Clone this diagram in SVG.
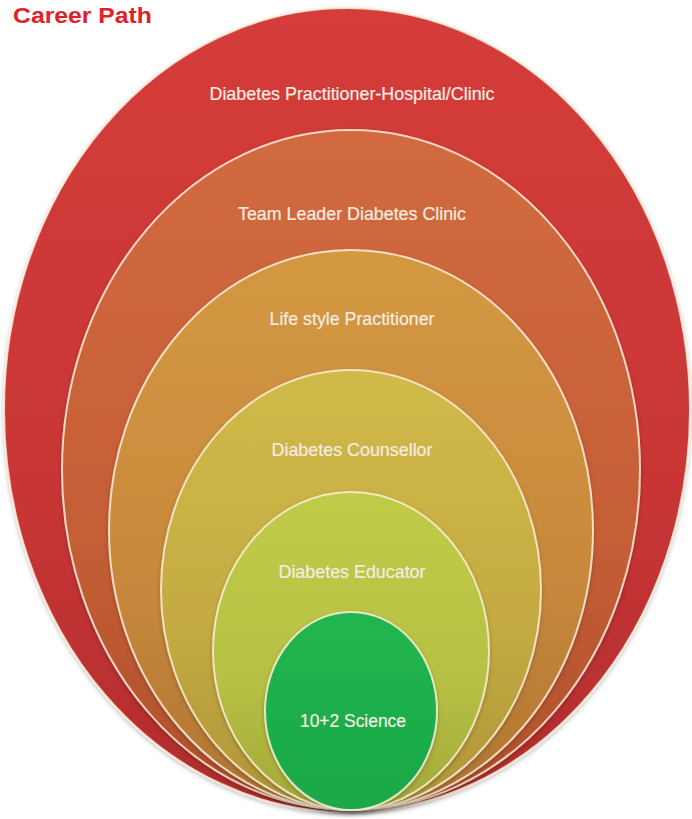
<svg xmlns="http://www.w3.org/2000/svg" width="692" height="819" viewBox="0 0 692 819">
<defs>
<linearGradient id="gRed" x1="0" y1="0" x2="0" y2="1"><stop offset="0" stop-color="#d43c3a"/><stop offset="0.6" stop-color="#c93636"/><stop offset="1" stop-color="#b02c2c"/></linearGradient>
<linearGradient id="gOrange" x1="0" y1="0" x2="0" y2="1"><stop offset="0" stop-color="#d26a40"/><stop offset="0.6" stop-color="#c55e36"/><stop offset="1" stop-color="#ae502c"/></linearGradient>
<linearGradient id="gTan" x1="0" y1="0" x2="0" y2="1"><stop offset="0" stop-color="#d49842"/><stop offset="0.6" stop-color="#c8883c"/><stop offset="1" stop-color="#ae7432"/></linearGradient>
<linearGradient id="gYellow" x1="0" y1="0" x2="0" y2="1"><stop offset="0" stop-color="#d0ba48"/><stop offset="0.6" stop-color="#c4aa42"/><stop offset="1" stop-color="#ae9436"/></linearGradient>
<linearGradient id="gLime" x1="0" y1="0" x2="0" y2="1"><stop offset="0" stop-color="#c0cc48"/><stop offset="0.6" stop-color="#b6c044"/><stop offset="1" stop-color="#a2a838"/></linearGradient>
<linearGradient id="gGreen" x1="0" y1="0" x2="0" y2="1"><stop offset="0" stop-color="#22b550"/><stop offset="1" stop-color="#1aa848"/></linearGradient>
<filter id="sh" x="-10%" y="-10%" width="120%" height="120%"><feDropShadow dx="0" dy="2" stdDeviation="2" flood-color="#000" flood-opacity="0.25"/></filter>
</defs>
<style>
.ring{stroke:#fbefd8;stroke-width:2;stroke-opacity:0.85;filter:url(#sh)}
.lbl{font-family:"Liberation Sans",Arial,sans-serif;font-size:19px;fill:#f6ece2;stroke:#f6ece2;stroke-width:0.2;text-anchor:middle}
.title{font-family:"Liberation Sans",Arial,sans-serif;font-size:22px;font-weight:bold;fill:#e0202a}
</style>
<rect width="692" height="819" fill="#ffffff"/>
<text class="title" x="13" y="23" textLength="139" lengthAdjust="spacingAndGlyphs">Career Path</text>
<g id="node-hospital">
<ellipse class="ring" cx="347" cy="410" rx="343" ry="402" fill="url(#gRed)"/>
<text class="lbl" x="352" y="100" textLength="285" lengthAdjust="spacingAndGlyphs">Diabetes Practitioner-Hospital/Clinic</text>
</g>
<g id="node-teamleader">
<ellipse class="ring" cx="351" cy="470" rx="289" ry="340" fill="url(#gOrange)"/>
<text class="lbl" x="352" y="220" textLength="228" lengthAdjust="spacingAndGlyphs">Team Leader Diabetes Clinic</text>
</g>
<g id="node-lifestyle">
<ellipse class="ring" cx="351" cy="530" rx="242" ry="280" fill="url(#gTan)"/>
<text class="lbl" x="352" y="325" textLength="165" lengthAdjust="spacingAndGlyphs">Life style Practitioner</text>
</g>
<g id="node-counsellor">
<ellipse class="ring" cx="351" cy="590" rx="190" ry="220" fill="url(#gYellow)"/>
<text class="lbl" x="352" y="456" textLength="161" lengthAdjust="spacingAndGlyphs">Diabetes Counsellor</text>
</g>
<g id="node-educator">
<ellipse class="ring" cx="351" cy="651" rx="138" ry="159" fill="url(#gLime)"/>
<text class="lbl" x="352" y="578" textLength="147" lengthAdjust="spacingAndGlyphs">Diabetes Educator</text>
</g>
<g id="node-science">
<ellipse class="ring" cx="351" cy="711" rx="86" ry="99" fill="url(#gGreen)"/>
<text class="lbl" x="353" y="727" textLength="106" lengthAdjust="spacingAndGlyphs">10+2 Science</text>
</g>
</svg>
